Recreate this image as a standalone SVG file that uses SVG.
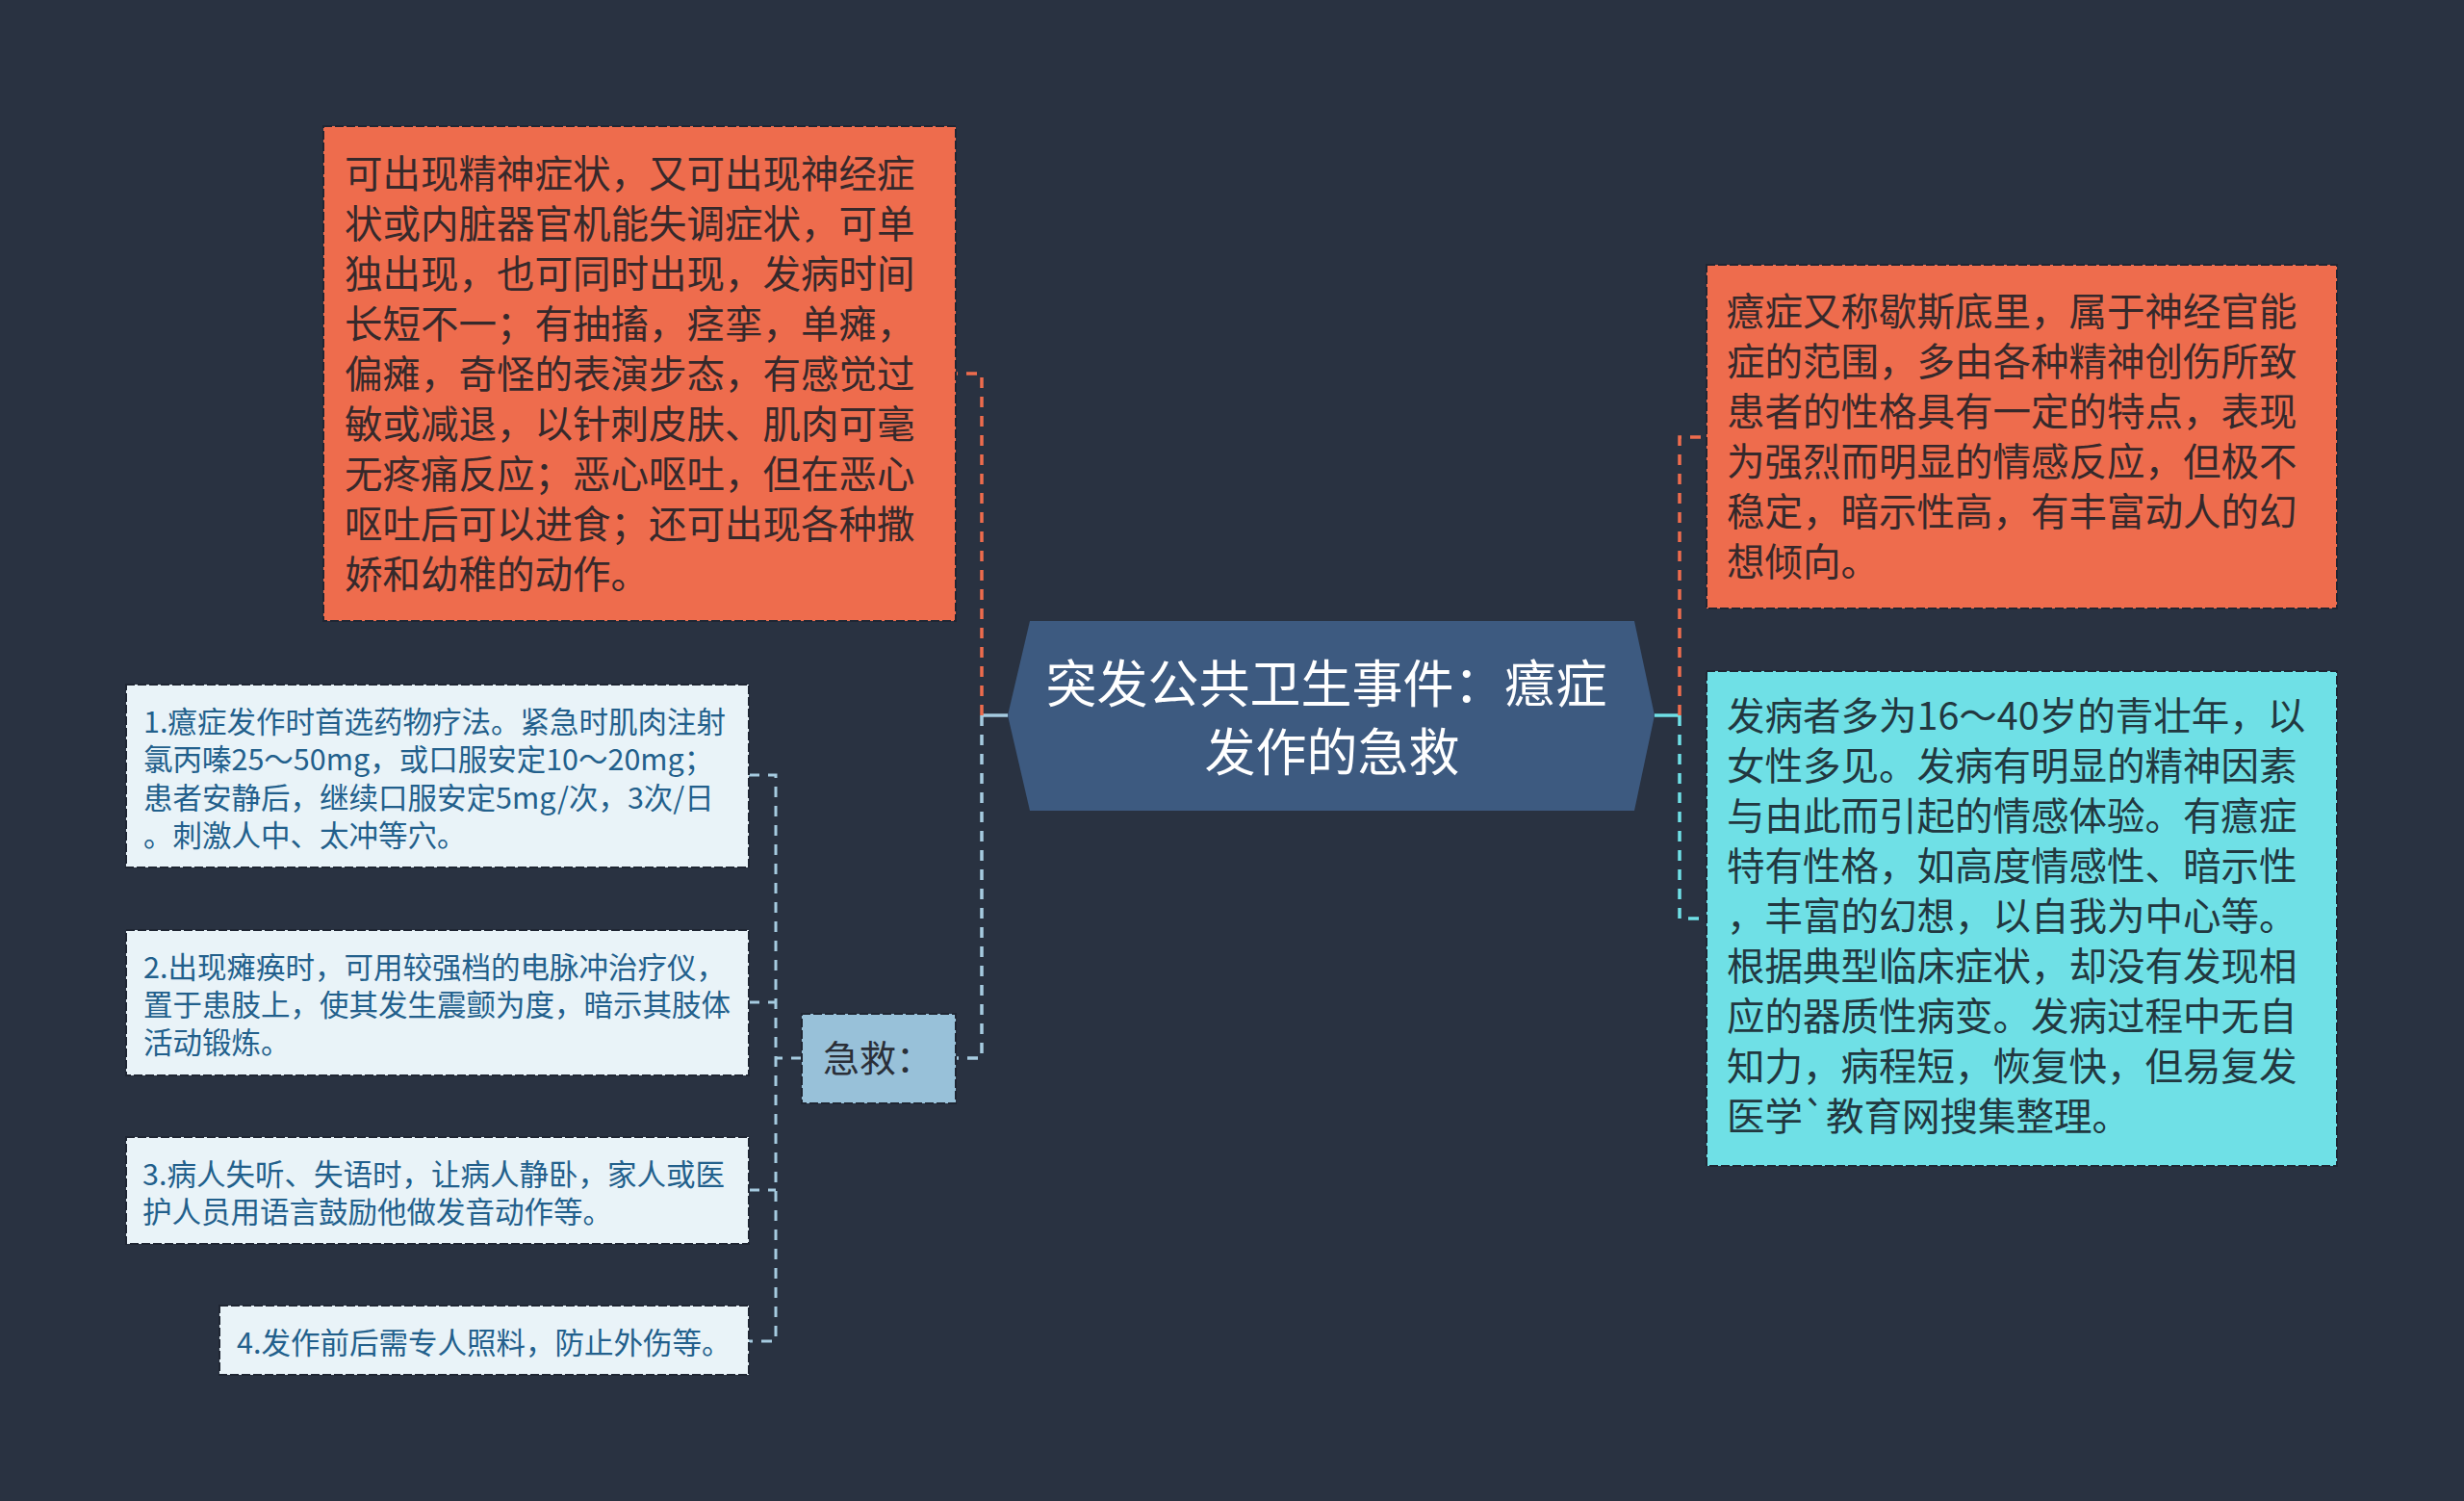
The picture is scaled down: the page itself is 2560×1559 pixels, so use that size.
<svg xmlns="http://www.w3.org/2000/svg" width="2560" height="1559" viewBox="0 0 2560 1559">
<style>
.bg{fill:#293241}
.box{stroke:#1f2633;stroke-width:2;stroke-dasharray:9 3}
.orange{fill:#ee6c4d}
.cyan{fill:#6fe0e6}
.light{fill:#e9f3f8}
.lblue{fill:#98c1d9}
.t{font-family:"Noto Sans CJK SC","Noto Sans",sans-serif}
.t40{font-size:39.5px}
.t30{font-size:30.5px}
.to{fill:#36292b}
.tc{fill:#223840}
.tl{fill:#22608c}
.c{fill:none;stroke-width:3.5}
.dash{stroke-dasharray:11 9}
.co{stroke:#ee6c4d}
.cc{stroke:#6fe0e6}
.cb{stroke:#a6cbe0}
</style>
<rect class="bg" x="0" y="0" width="2560" height="1559"/>

<g id="connectors">
  <path class="c cb" d="M1047 743 H1020"/>
  <path class="c co dash" d="M1020 743 V388 H993"/>
  <path class="c cb dash" d="M1020 743 V1099 H993"/>
  <path class="c cc" d="M1719 743 H1745"/>
  <path class="c co dash" d="M1745 743 V454 H1773"/>
  <path class="c cc dash" d="M1745 743 V954 H1773"/>
  <path class="c cb dash" style="stroke-width:3" d="M833 1099 H806"/>
  <path class="c cb dash" style="stroke-width:3" d="M778 805 H806 V1393 H778"/>
  <path class="c cb dash" style="stroke-width:3" d="M778 1041 H806"/>
  <path class="c cb dash" style="stroke-width:3" d="M778 1236 H806"/>
</g>

<g id="center">
  <polygon points="1070,645 1698,645 1719,743 1698,842 1070,842 1047,743" fill="#3d5a80"/>
  <text class="t" font-size="53" fill="#ffffff" text-anchor="middle">
    <tspan x="1384" y="730">突发公共卫生事件：癔症</tspan>
    <tspan x="1384" y="801">发作的急救</tspan>
  </text>
</g>

<g id="node-symptoms">
  <rect class="box orange" x="336" y="131" width="657" height="514"/>
  <text class="t t40 to">
    <tspan x="358" y="195">可出现精神症状，又可出现神经症</tspan>
    <tspan x="358" y="247">状或内脏器官机能失调症状，可单</tspan>
    <tspan x="358" y="299">独出现，也可同时出现，发病时间</tspan>
    <tspan x="358" y="351">长短不一；有抽搐，痉挛，单瘫，</tspan>
    <tspan x="358" y="403">偏瘫，奇怪的表演步态，有感觉过</tspan>
    <tspan x="358" y="455">敏或减退，以针刺皮肤、肌肉可毫</tspan>
    <tspan x="358" y="507">无疼痛反应；恶心呕吐，但在恶心</tspan>
    <tspan x="358" y="559">呕吐后可以进食；还可出现各种撒</tspan>
    <tspan x="358" y="611">娇和幼稚的动作。</tspan>
  </text>
</g>

<g id="node-definition">
  <rect class="box orange" x="1773" y="275" width="655" height="357"/>
  <text class="t t40 to">
    <tspan x="1794" y="338">癔症又称歇斯底里，属于神经官能</tspan>
    <tspan x="1794" y="390">症的范围，多由各种精神创伤所致</tspan>
    <tspan x="1794" y="442">患者的性格具有一定的特点，表现</tspan>
    <tspan x="1794" y="494">为强烈而明显的情感反应，但极不</tspan>
    <tspan x="1794" y="546">稳定，暗示性高，有丰富动人的幻</tspan>
    <tspan x="1794" y="598">想倾向。</tspan>
  </text>
</g>

<g id="node-features">
  <rect class="box cyan" x="1773" y="697" width="655" height="514"/>
  <text class="t t40 tc">
    <tspan x="1794" y="758">发病者多为16～40岁的青壮年，以</tspan>
    <tspan x="1794" y="810">女性多见。发病有明显的精神因素</tspan>
    <tspan x="1794" y="862">与由此而引起的情感体验。有癔症</tspan>
    <tspan x="1794" y="914">特有性格，如高度情感性、暗示性</tspan>
    <tspan x="1794" y="966">，丰富的幻想，以自我为中心等。</tspan>
    <tspan x="1794" y="1018">根据典型临床症状，却没有发现相</tspan>
    <tspan x="1794" y="1070">应的器质性病变。发病过程中无自</tspan>
    <tspan x="1794" y="1122">知力，病程短，恢复快，但易复发</tspan>
    <tspan x="1794" y="1174">医学`教育网搜集整理。</tspan>
  </text>
</g>

<g id="node-firstaid">
  <rect class="box lblue" x="833" y="1053" width="160" height="93"/>
  <text class="t" font-size="38" fill="#2a2f38" x="855" y="1113">急救：</text>
</g>

<g id="node-aid1">
  <rect class="box light" x="131" y="711" width="647" height="190"/>
  <text class="t t30 tl">
    <tspan x="149" y="761">1.癔症发作时首选药物疗法。紧急时肌肉注射</tspan>
    <tspan x="149" y="800">氯丙嗪25～50mg，或口服安定10～20mg；</tspan>
    <tspan x="149" y="840">患者安静后，继续口服安定5mg/次，3次/日</tspan>
    <tspan x="149" y="879">。刺激人中、太冲等穴。</tspan>
  </text>
</g>

<g id="node-aid2">
  <rect class="box light" x="131" y="966" width="647" height="151"/>
  <text class="t t30 tl">
    <tspan x="149" y="1016">2.出现瘫痪时，可用较强档的电脉冲治疗仪，</tspan>
    <tspan x="149" y="1055">置于患肢上，使其发生震颤为度，暗示其肢体</tspan>
    <tspan x="149" y="1094">活动锻炼。</tspan>
  </text>
</g>

<g id="node-aid3">
  <rect class="box light" x="131" y="1181" width="647" height="111"/>
  <text class="t t30 tl">
    <tspan x="148" y="1231">3.病人失听、失语时，让病人静卧，家人或医</tspan>
    <tspan x="148" y="1270">护人员用语言鼓励他做发音动作等。</tspan>
  </text>
</g>

<g id="node-aid4">
  <rect class="box light" x="228" y="1356" width="550" height="72"/>
  <text class="t t30 tl" x="246" y="1406">4.发作前后需专人照料，防止外伤等。</text>
</g>
</svg>
